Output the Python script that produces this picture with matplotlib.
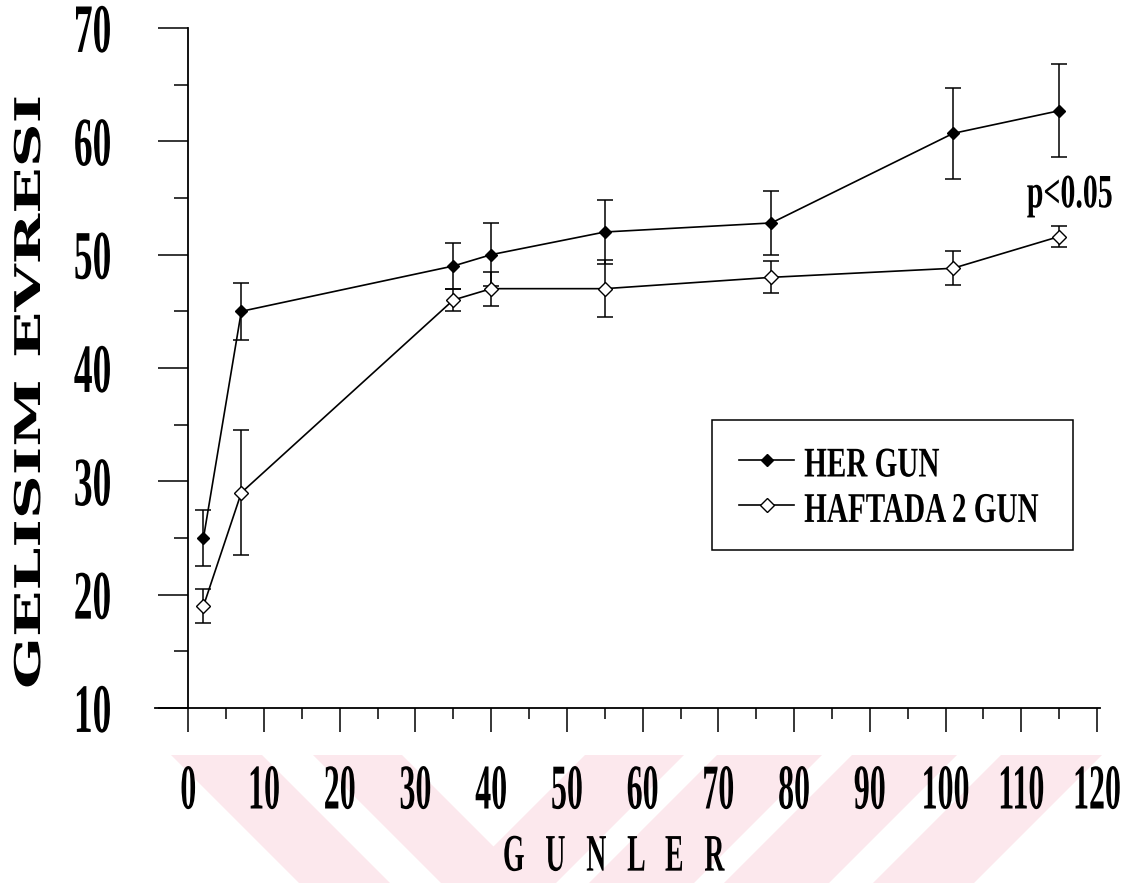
import matplotlib
matplotlib.use("Agg")
import matplotlib.pyplot as plt
from matplotlib.patches import Polygon
from matplotlib.patheffects import AbstractPathEffect
from matplotlib.transforms import Affine2D
from matplotlib.ticker import MultipleLocator

# measurement days
gunler = [2, 7, 35, 40, 55, 77, 101, 115]

# every day group (mean, error)
her_gun = [25, 45, 49, 50, 52, 52.8, 60.7, 62.7]
her_gun_err = [2.5, 2.5, 2, 2.8, 2.8, 2.8, 4, 4.1]

# twice a week group
haftada_2 = [19, 29, 46, 47, 47, 48, 48.8, 51.6]
haftada_2_err = [1.5, 5.5, 1, 1.5, 2.5, 1.4, 1.5, 0.9]

x_ticks = list(range(0, 121, 10))
y_ticks = list(range(10, 71, 10))
series_names = ["HER GUN", "HAFTADA 2 GUN"]

# faint pink watermark stripes of the scan, x range (px) on their top edge
wm_back = [(171, 262), (313, 402)]
wm_fwd = [(585, 684), (717, 822), (852, 957), (1001, 1102)]


class Stretch(AbstractPathEffect):
    # scale the glyphs about their own centre, the print uses tall narrow type
    def __init__(self, sx=1.0, sy=1.0):
        super().__init__()
        self.sx, self.sy = sx, sy

    def draw_path(self, renderer, gc, tpath, affine, rgbFace=None):
        box = tpath.get_extents(affine)
        cx, cy = (box.x0 + box.x1) / 2, (box.y0 + box.y1) / 2
        affine = affine + Affine2D().translate(-cx, -cy).scale(self.sx, self.sy).translate(cx, cy)
        renderer.draw_path(gc, tpath, affine, rgbFace)


plt.rcParams["font.family"] = "Liberation Serif"
plt.rcParams["font.weight"] = "bold"

W, H = 1127, 883
fig = plt.figure(figsize=(W / 100, H / 100), dpi=100)

# watermark, kept under everything else
pink = (0.99, 0.91, 0.93)
top, bot = 755, 883
for x0, x1 in wm_back:
    pts = [(x0, top), (x1, top), (x1 + bot - top, bot), (x0 + bot - top, bot)]
    fig.patches.append(Polygon([(px / W, 1 - py / H) for px, py in pts], closed=True,
                               transform=fig.transFigure, fc=pink, ec="none", zorder=-5))
for x0, x1 in wm_fwd:
    pts = [(x0, top), (x1, top), (x1 - (bot - top), bot), (x0 - (bot - top), bot)]
    fig.patches.append(Polygon([(px / W, 1 - py / H) for px, py in pts], closed=True,
                               transform=fig.transFigure, fc=pink, ec="none", zorder=-5))

ax = fig.add_axes([155 / W, 1 - 708 / H, 945 / W, 680 / H])
ax.patch.set_alpha(0)

ax.errorbar(gunler, her_gun, yerr=her_gun_err, fmt="none", ecolor="black",
            elinewidth=1.1, capsize=6, capthick=1.1, zorder=2)
ax.errorbar(gunler, haftada_2, yerr=haftada_2_err, fmt="none", ecolor="black",
            elinewidth=1.1, capsize=6, capthick=1.1, zorder=2)
ax.plot(gunler, her_gun, color="black", lw=1.2, marker="D", ms=6.5,
        mfc="black", mec="black", label=series_names[0], zorder=3)
ax.plot(gunler, haftada_2, color="black", lw=1.2, marker="D", ms=7.3,
        mfc="white", mec="black", mew=1.0, label=series_names[1], zorder=3)

ax.set_xlim(-4.4, 120.4)
ax.set_ylim(10, 70)
ax.set_xticks(x_ticks)
ax.set_yticks(y_ticks)
ax.xaxis.set_minor_locator(MultipleLocator(5))
ax.yaxis.set_minor_locator(MultipleLocator(5))

ax.spines["left"].set_position(("data", 0))
ax.spines["top"].set_visible(False)
ax.spines["right"].set_visible(False)
for s in ("left", "bottom"):
    ax.spines[s].set_linewidth(1.3)

ax.tick_params(axis="x", which="major", direction="out", length=17, width=1.1, pad=32, labelsize=23)
ax.tick_params(axis="x", which="minor", direction="out", length=8, width=1.1)
ax.tick_params(axis="y", which="major", direction="out", length=21.5, width=1.1, pad=34, labelsize=27)
ax.tick_params(axis="y", which="minor", direction="out", length=10, width=1.1)

for lab in ax.get_xticklabels():
    lab.set_path_effects([Stretch(1.0, 2.0)])
for lab in ax.get_yticklabels():
    lab.set_path_effects([Stretch(1.0, 1.85)])

# axis titles
fig.text(30 / W, 1 - 392 / H, "GELISIM EVRESI", rotation=90, ha="center", va="center",
         family="DejaVu Serif", fontsize=25.5, fontweight="bold",
         path_effects=[Stretch(1.0, 1.72)])
fig.text(614 / W, 1 - 856 / H, "G   U   N   L   E   R", ha="center", va="center",
         fontsize=20, path_effects=[Stretch(1.0, 1.9)])

ax.text(116.4, 55.2, "p<0.05", ha="center", va="center", fontsize=21.5,
        path_effects=[Stretch(1.0, 1.6)])

leg = ax.legend(loc="upper left", bbox_to_anchor=(712 / W, 1 - 420 / H - 0.01, 361 / W, 0.01),
                bbox_transform=fig.transFigure, mode="expand", borderaxespad=0,
                fontsize=21, frameon=True, fancybox=False, framealpha=1,
                edgecolor="black", borderpad=0.92, handlelength=1.9, handleheight=1.27,
                handletextpad=0.34, labelspacing=0.48)
leg.get_frame().set_linewidth(1.1)
for t in leg.get_texts():
    t.set_path_effects([Stretch(1.0, 1.45)])

fig.savefig("out.png", dpi=100)
